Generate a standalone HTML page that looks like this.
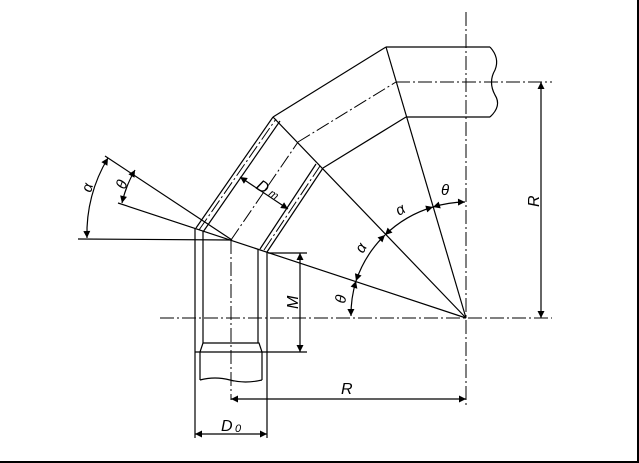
<!DOCTYPE html>
<html><head><meta charset="utf-8"><style>
html,body{margin:0;padding:0;background:#fff}
svg{display:block}
text{font-family:"Liberation Sans",sans-serif;font-style:italic;fill:#000}
</style></head><body>
<svg width="639" height="463" viewBox="0 0 639 463" xmlns="http://www.w3.org/2000/svg">
<defs>
<marker id="a" viewBox="0 0 10 10" refX="10" refY="5" markerWidth="10" markerHeight="7" orient="auto-start-reverse" markerUnits="userSpaceOnUse"><path d="M0,0L10,5L0,10z" fill="#000"/></marker>
</defs>
<g stroke="#000" stroke-width="1.2" fill="none">
<line x1="638" y1="0" x2="638" y2="463" stroke-width="2"/>
<line x1="0" y1="462" x2="639" y2="462" stroke-width="2"/>
<g stroke-dasharray="14,3,2,3" stroke-width="1">
<line x1="466" y1="12" x2="466" y2="406"/>
<line x1="160" y1="318" x2="552" y2="318"/>
<line x1="396" y1="82" x2="552" y2="82"/>
<line x1="231" y1="240" x2="231" y2="400"/>
<line x1="231" y1="240" x2="298" y2="142"/>
<line x1="298" y1="142" x2="396" y2="82"/>
<line x1="199" y1="230" x2="276" y2="119"/>
<line x1="264" y1="250" x2="320" y2="166"/>
</g>
<line x1="195" y1="228" x2="195" y2="438"/>
<line x1="267" y1="252" x2="267" y2="438"/>
<line x1="203" y1="231" x2="203" y2="343"/>
<line x1="258" y1="249" x2="258" y2="343"/>
<path d="M203,343H259L262,352V380"/>
<path d="M203,343L200,352V380"/>
<path d="M200,380Q215,376 230,380T262,380"/>
<line x1="195" y1="352" x2="307" y2="352"/>
<line x1="196" y1="228" x2="273" y2="117"/>
<line x1="203" y1="232" x2="280" y2="121"/>
<line x1="267" y1="252" x2="323" y2="168"/>
<line x1="260" y1="249" x2="316" y2="164"/>
<line x1="273" y1="117" x2="386" y2="47"/>
<line x1="323" y1="168" x2="406" y2="117"/>
<line x1="386" y1="47" x2="490" y2="47"/>
<line x1="406" y1="117" x2="490" y2="117"/>
<path d="M490,47Q500,58 495,70Q488,82 495,95Q502,106 490,117"/>
<line x1="466" y1="318" x2="386" y2="47"/>
<line x1="466" y1="318" x2="273" y2="117"/>
<line x1="466" y1="318" x2="118" y2="203"/>
<line x1="78" y1="239" x2="232" y2="240"/>
<line x1="105" y1="156" x2="232" y2="240"/>
<path d="M351,316A116,116 0 0 1 356,281" marker-start="url(#a)" marker-end="url(#a)"/>
<path d="M356,281A116,116 0 0 1 385,235" marker-start="url(#a)" marker-end="url(#a)"/>
<path d="M385,235A116,116 0 0 1 433,207" marker-start="url(#a)" marker-end="url(#a)"/>
<path d="M433,207A116,116 0 0 1 465,202" marker-start="url(#a)" marker-end="url(#a)"/>
<path d="M87,238A145,145 0 0 1 108,158" marker-start="url(#a)" marker-end="url(#a)"/>
<path d="M122,203A115,115 0 0 1 135,170" marker-start="url(#a)" marker-end="url(#a)"/>
<line x1="240" y1="177" x2="288" y2="209" marker-start="url(#a)" marker-end="url(#a)"/>
<line x1="268" y1="253" x2="307" y2="253"/>
<line x1="300" y1="253" x2="300" y2="352" marker-start="url(#a)" marker-end="url(#a)"/>
<line x1="541" y1="82" x2="541" y2="318" marker-start="url(#a)" marker-end="url(#a)"/>
<line x1="231" y1="399" x2="466" y2="399" marker-start="url(#a)" marker-end="url(#a)"/>
<line x1="195" y1="434" x2="267" y2="434" marker-start="url(#a)" marker-end="url(#a)"/>
</g>
<g font-size="15">
<text x="0" y="0" transform="translate(91,193) rotate(-75)">α</text>
<text x="0" y="0" transform="translate(125,190) rotate(-70)">θ</text>
<text x="0" y="0" transform="translate(345,304) rotate(-80)">θ</text>
<text x="0" y="0" transform="translate(363,254) rotate(-60)">α</text>
<text x="0" y="0" transform="translate(399,216) rotate(-30)">α</text>
<text x="441" y="195">θ</text>
<text x="0" y="0" transform="translate(539,207) rotate(-90)" font-size="16">R</text>
<text x="0" y="0" transform="translate(298,309) rotate(-90)" font-size="16">M</text>
<text x="341" y="394" font-size="16">R</text>
<text x="221" y="431" font-size="16">D</text><text x="235" y="432" font-size="11" font-style="normal">0</text>
<text x="0" y="0" transform="translate(255,188) rotate(33)" font-size="16">D</text>
<text x="0" y="0" transform="translate(268,195) rotate(33)" font-size="11" font-style="normal">m</text>
</g>
</svg>
</body></html>
